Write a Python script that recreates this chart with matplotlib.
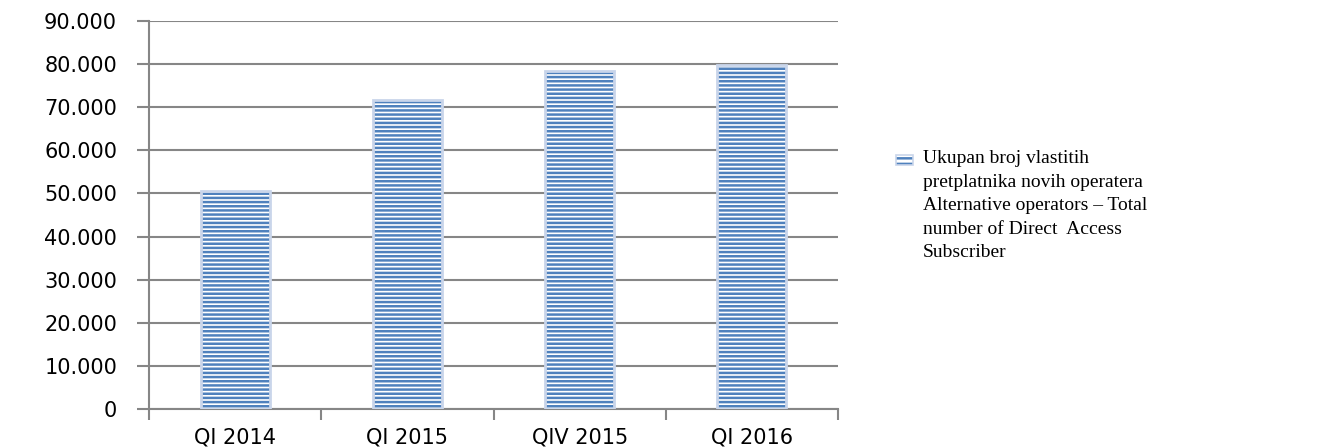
import numpy as np
import matplotlib
matplotlib.use("Agg")
import matplotlib.pyplot as plt
from matplotlib.patches import Patch
from matplotlib.ticker import FuncFormatter, MultipleLocator

# podaci
kvartali = ['QI 2014', 'QI 2015', 'QIV 2015', 'QI 2016']
pretplatnici = [50600, 71700, 78300, 79700]
legenda = ('Ukupan broj vlastitih\npretplatnika novih operatera\n'
           'Alternative operators \u2013 Total\nnumber of Direct  Access\nSubscriber')

plave = '#4F81BD'
rub = '#C9D5EA'
plt.rcParams['hatch.linewidth'] = 1.8

fig = plt.figure(figsize=(13.34, 4.48), dpi=100)
ax = fig.add_axes([0.1117, 0.0871, 0.5165, 0.866])

x = np.arange(len(kvartali))
# pruge (hatch u boji ruba), pa svijetli okvir preko
ax.bar(x, pretplatnici, width=0.4, color='white', edgecolor=plave,
       linewidth=0, hatch='----', zorder=3)
ax.bar(x, pretplatnici, width=0.4, fill=False, edgecolor=rub,
       linewidth=2, zorder=4)

ax.set_xlim(-0.5, len(kvartali) - 0.5)
ax.set_ylim(0, 90000)
ax.yaxis.set_major_locator(MultipleLocator(10000))
ax.yaxis.set_major_formatter(FuncFormatter(lambda v, p: f'{int(v):,}'.replace(',', '.')))
ax.grid(axis='y', color='#868686', linewidth=1.5, zorder=0)

ax.set_xticks(x)
ax.set_xticklabels(kvartali)
ax.set_xticks(np.arange(len(kvartali) + 1) - 0.5, minor=True)
ax.tick_params(axis='x', which='major', length=0, pad=13, labelsize=15)
ax.tick_params(axis='x', which='minor', length=8, width=1.5, color='#868686', direction='out')
ax.tick_params(axis='y', length=9, width=1.5, color='#868686', pad=14, labelsize=15)

for s in ['top', 'right']:
    ax.spines[s].set_visible(False)
for s in ['left', 'bottom']:
    ax.spines[s].set_color('#868686')
    ax.spines[s].set_linewidth(1.5)

# legenda: oznaka + tekst
h1 = Patch(facecolor='white', edgecolor=plave, hatch='---', linewidth=0)
h2 = Patch(fill=False, edgecolor=rub, linewidth=1.2)
fig.legend([(h1, h2)], [''], loc='center left', bbox_to_anchor=(896 / 1334, 1 - 161 / 448),
           frameon=False, handlelength=1.2, handleheight=0.75, handletextpad=0,
           borderpad=0, borderaxespad=0)
fig.text(923 / 1334, 1 - 150 / 448, legenda, ha='left', va='top',
         family='Liberation Serif', fontsize=14, linespacing=1.5)

fig.savefig('out.png', dpi=100)
